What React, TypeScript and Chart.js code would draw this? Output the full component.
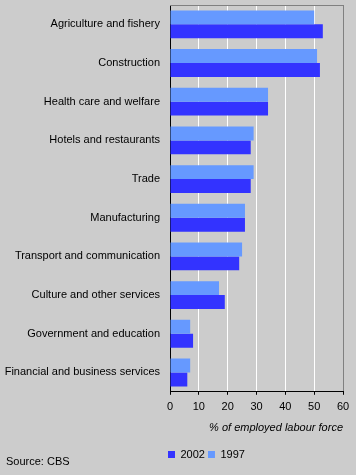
import React, { useEffect, useRef } from "react";
import { Chart, registerables } from "chart.js";

Chart.register(...registerables);

const categories = [
  "Agriculture and fishery",
  "Construction",
  "Health care and welfare",
  "Hotels and restaurants",
  "Trade",
  "Manufacturing",
  "Transport and communication",
  "Culture and other services",
  "Government and education",
  "Financial and business services",
];
const values1997 = [50, 51, 34, 29, 29, 26, 25, 17, 7, 7];
const values2002 = [53, 52, 34, 28, 28, 26, 24, 19, 8, 6];
const seriesLabels = ["1997", "2002"];
const xTitle = "% of employed labour force";
const sourceText = "Source: CBS";

const FONT = "Arial, 'Liberation Sans', sans-serif";

export default function App() {
  const ref = useRef<HTMLCanvasElement | null>(null);

  useEffect(() => {
    document.body.style.margin = "0";
    document.body.style.background = "#cccccc";
    const canvas = ref.current;
    if (!canvas) return;

    const framePlugin = {
      id: "frame",
      afterLayout(chart: any) {
        const lg = chart.legend;
        if (lg) {
          const h = lg.bottom - lg.top;
          const dx = 165 - lg.left;
          lg.left += dx;
          lg.right += dx;
          lg.top = 446;
          lg.bottom = 446 + h;
        }
        const tb = chart.titleBlock;
        if (tb) {
          const h = tb.bottom - tb.top;
          const w = tb.right - tb.left;
          tb.left = 6;
          tb.right = 6 + w;
          tb.top = 455;
          tb.bottom = 455 + h;
        }
      },
      afterDatasetsDraw(chart: any) {
        const { ctx, chartArea } = chart;
        ctx.save();
        ctx.strokeStyle = "#808080";
        ctx.lineWidth = 1;
        ctx.beginPath();
        ctx.moveTo(chartArea.left, Math.round(chartArea.top) + 0.5);
        ctx.lineTo(chartArea.right + 1, Math.round(chartArea.top) + 0.5);
        ctx.stroke();
        ctx.restore();
      },
    };

    const chart = new Chart(canvas, {
      type: "bar",
      data: {
        labels: categories,
        datasets: [
          {
            label: seriesLabels[0],
            data: values1997,
            backgroundColor: "#6699ff",
            borderWidth: 0,
          },
          {
            label: seriesLabels[1],
            data: values2002,
            backgroundColor: "#3333ff",
            borderWidth: 0,
          },
        ],
      },
      options: {
        indexAxis: "y",
        responsive: false,
        animation: false,
        maintainAspectRatio: false,
        font: { family: FONT, size: 11 },
        datasets: {
          bar: { categoryPercentage: 0.72, barPercentage: 1 },
        },
        layout: { padding: { top: 5, right: 13, left: 0, bottom: 1 } },
        scales: {
          x: {
            min: 0,
            max: 60,
            afterFit(scale: any) {
              scale.height = 45;
              scale.paddingLeft = 0;
              scale.paddingRight = 0;
            },
            ticks: {
              stepSize: 10,
              padding: 6,
              color: "#000",
              font: { family: FONT, size: 11 },
            },
            grid: {
              color: (c: any) => (c.index === 6 ? "#808080" : "#ffffff"),
              tickColor: "#000",
              tickLength: 3,
              lineWidth: 1,
            },
            border: { color: "#000", width: 1 },
            title: {
              display: true,
              text: xTitle,
              align: "end",
              color: "#000",
              padding: { top: 0, bottom: 2 },
              font: { family: FONT, size: 11, style: "italic" },
            },
          },
          y: {
            afterFit(scale: any) {
              scale.width = 170;
              scale.paddingTop = 0;
              scale.paddingBottom = 0;
            },
            ticks: {
              padding: 10,
              color: "#000",
              font: { family: FONT, size: 11 },
            },
            grid: { display: false, drawTicks: false },
            border: { color: "#000", width: 1 },
          },
        },
        plugins: {
          legend: {
            position: "bottom",
            align: "start",
            fullSize: false,
            labels: {
              boxWidth: 7,
              boxHeight: 7,
              padding: 3,
              color: "#000",
              font: { family: FONT, size: 11 },
              sort: (a: any, b: any) => b.datasetIndex - a.datasetIndex,
            },
          },
          title: {
            display: true,
            text: sourceText,
            position: "bottom",
            align: "start",
            color: "#000",
            padding: 0,
            font: { family: FONT, size: 11, weight: "normal" },
          },
          tooltip: { enabled: false },
        },
      },
      plugins: [framePlugin],
    } as any);

    return () => chart.destroy();
  }, []);

  return (
    <div style={{ width: 356, height: 475, background: "#cccccc" }}>
      <canvas ref={ref} width={356} height={475} style={{ display: "block" }} />
    </div>
  );
}
